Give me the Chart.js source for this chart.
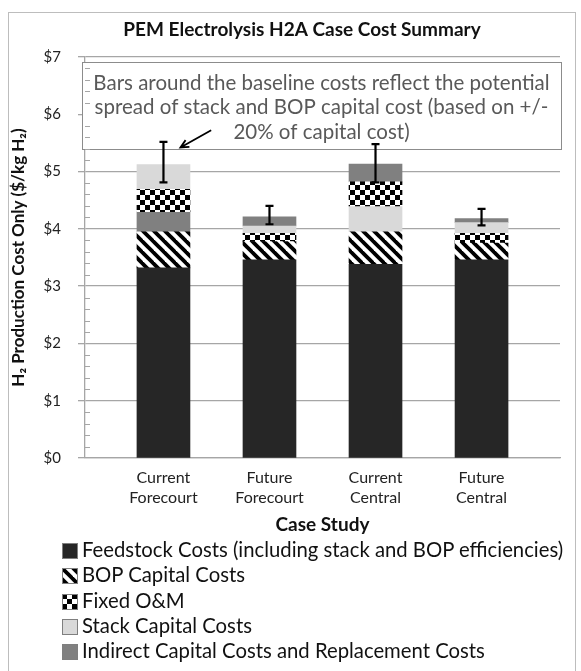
<!DOCTYPE html>
<html>
<head>
<meta charset="utf-8">
<script src="https://cdn.jsdelivr.net/npm/chart.js@4.4.0/dist/chart.umd.min.js"></script>
<style>
  body { margin: 0; background: #fff; font-family: Lato, sans-serif; }
  #frame { position: absolute; left: 8px; top: 12px; width: 566px; height: 700px; border: 1px solid #bdbdbd; }
  #wrap { position: absolute; left: 0; top: 0; width: 581px; height: 540px; }
  #legend { position: absolute; left: 62px; top: 537px; margin: 0; padding: 0; list-style: none; }
  #legend li { height: 25.3px; line-height: 25.3px; font-size: 20.3px; color: #111; white-space: nowrap; }
  #legend canvas { vertical-align: -2px; margin-right: 4px; }
</style>
</head>
<body>
<div id="frame"></div>
<div id="wrap"><canvas id="mycanvas" width="581" height="540"></canvas></div>
<ul id="legend"></ul>
<script>
// ** PEM Electrolysis H2A case cost summary, stacked bars with error bars

var categories = ['Current Forecourt', 'Future Forecourt', 'Current Central', 'Future Central'];
var seriesNames = ['Feedstock Costs (including stack and BOP efficiencies)', 'BOP Capital Costs',
	'Fixed O&M', 'Stack Capital Costs', 'Indirect Capital Costs and Replacement Costs'];
var feedstock = [3.32, 3.46, 3.38, 3.46];
var bopCapital = [0.63, 0.32, 0.57, 0.29];
var fixedOM = [0.39, 0.14, 0.42, 0.17];
var stackCapital = [0.43, 0.13, 0.45, 0.19];
var indirectCapital = [0.35, 0.16, 0.31, 0.07];
// order the segments sit in, bottom to top, for each bar (index into seriesNames)
var stackOrder = [[0, 1, 4, 2, 3], [0, 1, 2, 3, 4], [0, 1, 3, 2, 4], [0, 1, 2, 3, 4]];
var errLow = [4.81, 4.08, 4.81, 4.06];
var errHigh = [5.52, 4.40, 5.48, 4.35];
var noteLines = ['Bars around the baseline costs reflect the potential',
	'spread of stack and BOP capital cost (based on +/-', '20% of capital cost)'];

var values = [feedstock, bopCapital, fixedOM, stackCapital, indirectCapital];
var gridColor = '#a6a6a6';
var fontFam = 'Lato, sans-serif';

function makeFill(type) {
	if (type === 'diag' || type === 'check') {
		var c = document.createElement('canvas');
		var g = c.getContext('2d');
		if (type === 'diag') {
			c.width = 11; c.height = 11;
			g.fillStyle = '#fff'; g.fillRect(0, 0, 11, 11);
			g.strokeStyle = '#000'; g.lineWidth = 3.8;
			[-11, 0, 11].forEach(function(o) {
				g.beginPath(); g.moveTo(o - 2, -2); g.lineTo(o + 13, 13); g.stroke();
			});
		} else {
			c.width = 10; c.height = 10;
			g.fillStyle = '#fff'; g.fillRect(0, 0, 10, 10);
			g.fillStyle = '#000';
			g.fillRect(0, 0, 5, 5); g.fillRect(5, 5, 5, 5);
		}
		return g.createPattern(c, 'repeat');
	}
	return type;
}
var fillTypes = ['#262626', 'diag', 'check', '#d9d9d9', '#808080'];
var fills = fillTypes.map(makeFill);

// floating ranges built from the segment values in each bar's own order
var ranges = values.map(function() { return []; });
categories.forEach(function(c, i) {
	var base = 0;
	stackOrder[i].forEach(function(k) {
		ranges[k][i] = { x: i, y: [base, base + values[k][i]] };
		base += values[k][i];
	});
});

var decor = {
	id: 'decor',
	beforeDatasetsDraw: function(chart) {
		var ctx = chart.ctx, a = chart.chartArea;
		var x0 = a.left - 3, y0 = a.top + 5, x1 = a.right + 1, y1 = a.top + 92;
		ctx.save();
		ctx.fillStyle = '#fff';
		ctx.fillRect(x0, y0, x1 - x0, y1 - y0);
		ctx.strokeStyle = '#8c8c8c';
		ctx.lineWidth = 1;
		ctx.strokeRect(x0 + 0.5, y0 + 0.5, x1 - x0, y1 - y0);
		ctx.fillStyle = '#595959';
		ctx.font = '20.5px ' + fontFam;
		ctx.textAlign = 'center';
		ctx.textBaseline = 'middle';
		noteLines.forEach(function(t, n) {
			ctx.fillText(t, (x0 + x1) / 2, y0 + 21 + n * 24.5);
		});
		ctx.restore();
	},
	afterDatasetsDraw: function(chart) {
		var ctx = chart.ctx, xs = chart.scales.x, ys = chart.scales.y;
		ctx.save();
		ctx.strokeStyle = '#000';
		ctx.lineWidth = 2.2;
		categories.forEach(function(c, i) {
			var x = xs.getPixelForValue(i);
			var lo = ys.getPixelForValue(errLow[i]), hi = ys.getPixelForValue(errHigh[i]);
			ctx.beginPath();
			ctx.moveTo(x, lo); ctx.lineTo(x, hi);
			ctx.moveTo(x - 4, lo); ctx.lineTo(x + 4, lo);
			ctx.moveTo(x - 4, hi); ctx.lineTo(x + 4, hi);
			ctx.stroke();
		});
		// arrow pointing at the first error bar
		var tx = xs.getPixelForValue(0.45), ty = ys.getPixelForValue(5.72);
		var hx = xs.getPixelForValue(0.16), hy = ys.getPixelForValue(5.42);
		var ang = Math.atan2(hy - ty, hx - tx);
		ctx.lineWidth = 1.8;
		ctx.beginPath();
		ctx.moveTo(tx, ty); ctx.lineTo(hx, hy);
		ctx.moveTo(hx - 9 * Math.cos(ang - 0.45), hy - 9 * Math.sin(ang - 0.45));
		ctx.lineTo(hx, hy);
		ctx.lineTo(hx - 9 * Math.cos(ang + 0.45), hy - 9 * Math.sin(ang + 0.45));
		ctx.stroke();
		// minor ticks on the value axis
		ctx.strokeStyle = gridColor;
		ctx.lineWidth = 1;
		for (var v = 0.2; v < 7; v += 0.2) {
			if (Math.abs(v - Math.round(v)) < 0.01) continue;
			var y = Math.round(ys.getPixelForValue(v)) + 0.5;
			ctx.beginPath(); ctx.moveTo(xs.left, y); ctx.lineTo(xs.left + 5, y); ctx.stroke();
		}
		ctx.restore();
	},
	afterDraw: function(chart) {
		var ctx = chart.ctx;
		ctx.save();
		ctx.fillStyle = '#111';
		ctx.font = 'bold 19px ' + fontFam;
		ctx.textAlign = 'center';
		ctx.textBaseline = 'middle';
		ctx.fillText('PEM Electrolysis H2A Case Cost Summary', 302, 30);
		ctx.restore();
	}
};

var chartdata = {
	datasets: seriesNames.map(function(name, k) {
		return {
			label: name,
			data: ranges[k],
			backgroundColor: fills[k],
			borderWidth: 0,
			grouped: false,
			barThickness: 53
		};
	})
};

var ctx = document.getElementById('mycanvas');
var barGraph = new Chart(ctx, {
	type: 'bar',
	data: chartdata,
	plugins: [decor],
	options: {
		responsive: false,
		animation: false,
		layout: { padding: { left: 0, right: 21, top: 57, bottom: 0 } },
		plugins: {
			legend: { display: false },
			tooltip: { enabled: false }
		},
		scales: {
			x: {
				type: 'linear',
				offset: false,
				min: -0.74,
				max: 3.74,
				afterBuildTicks: function(s) {
					s.ticks = categories.map(function(c, i) { return { value: i }; });
				},
				afterFit: function(s) { s.height = 82; },
				ticks: {
					autoSkip: false,
					maxRotation: 0,
					padding: 10,
					color: '#222',
					font: { family: fontFam, size: 16, lineHeight: 1.25 },
					callback: function(v) { return categories[v].split(' '); }
				},
				grid: { display: false, drawTicks: false, tickLength: 0 },
				border: { color: gridColor, width: 1.3 },
				title: {
					display: true,
					text: 'Case Study',
					color: '#111',
					font: { family: fontFam, size: 19, weight: 'bold' },
					padding: { top: 0, bottom: 4 }
				}
			},
			y: {
				min: 0,
				max: 7,
				afterFit: function(s) { s.width = 85; },
				ticks: {
					stepSize: 1,
					padding: 17,
					color: '#222',
					font: { family: fontFam, size: 15 },
					callback: function(v) { return '$' + v; }
				},
				grid: { color: gridColor, lineWidth: 1.3, tickLength: 7 },
				border: { color: gridColor, width: 1.3 },
				title: {
					display: true,
					text: 'H\u2082 Production Cost Only ($/kg H\u2082)',
					color: '#111',
					font: { family: fontFam, size: 17, weight: 'bold' },
					padding: { top: 8, bottom: 0 }
				}
			}
		}
	}
});

// legend, one entry per line, swatches use the same fills as the bars
var legend = document.getElementById('legend');
seriesNames.forEach(function(name, k) {
	var li = document.createElement('li');
	var sw = document.createElement('canvas');
	sw.width = 16; sw.height = 16;
	var g = sw.getContext('2d');
	g.fillStyle = fills[k];
	g.fillRect(0, 0, 16, 16);
	g.strokeStyle = '#7f7f7f';
	g.lineWidth = 1;
	g.strokeRect(0.5, 0.5, 15, 15);
	li.appendChild(sw);
	li.appendChild(document.createTextNode(name));
	legend.appendChild(li);
});
</script>
</body>
</html>
